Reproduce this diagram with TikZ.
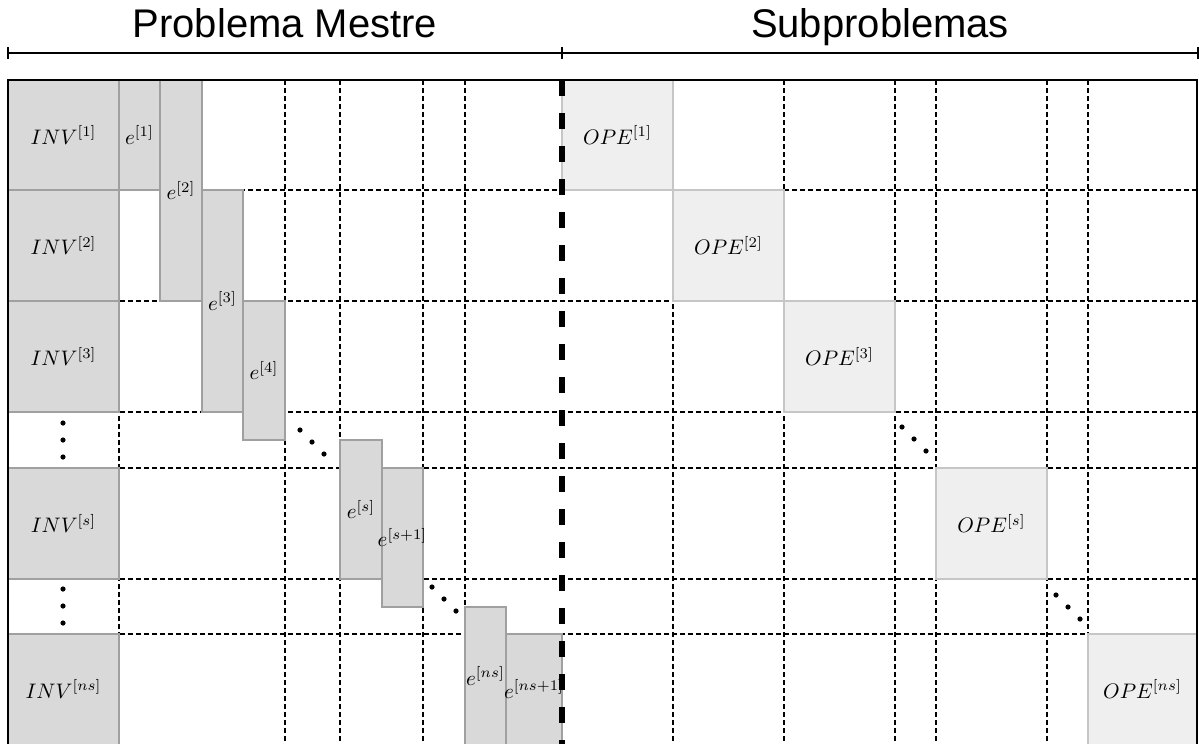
\documentclass[tikz,border=0pt]{standalone}
\usepackage{fontspec}
\newfontfamily\headfont{Liberation Sans}
\definecolor{boxgray}{HTML}{D9D9D9}
\definecolor{edgegray}{HTML}{A0A0A0}
\definecolor{opegray}{HTML}{EFEFEF}
\definecolor{opeedge}{HTML}{C6C6C6}
\begin{document}
\begin{tikzpicture}[x=0.5pt,y=-0.5pt,
  gridline/.style={black, line width=0.6pt, dash pattern=on 2.5pt off 1.5pt},
  invbox/.style={fill=boxgray, draw=edgegray, line width=0.75pt},
  opebox/.style={fill=opegray, draw=opeedge, line width=0.75pt},
  lbl/.style={inner sep=0pt, scale=1.05},
  head/.style={anchor=base, inner sep=0pt, font=\headfont\fontsize{20}{24}\selectfont},
  frameline/.style={line width=1.4pt},
  splitline/.style={line width=2.8pt, dash pattern=on 8pt off 8.5pt},
  bracketline/.style={line width=1.3pt},
  dotmark/.style={circle, fill=black, inner sep=0pt, minimum size=2.6pt}
]
\useasboundingbox (0,0) rectangle (1199,744);
\clip (0,0) rectangle (1199,744);

% header brackets
\coordinate (bl) at (8,53);
\coordinate (bm) at (562,53);
\coordinate (br) at (1198,53);
\draw[bracketline] (bl) -- (br);
\foreach \t in {bl,bm,br}
  \draw[bracketline] ([yshift=3pt]\t) -- ([yshift=-2.8pt]\t);
\node[head] (master) at (285,37) {Problema Mestre};
\node[head] (sub) at (880,37) {Subproblemas};

% dashed grid
\foreach \yy in {190,301,412,468,579,634}
  \draw[gridline] (8,\yy) -- (1197,\yy);
\foreach \xx in {119,285,340,423,465,673,784,895,936,1047,1088}
  \draw[gridline] (\xx,80) -- (\xx,746);

% investment blocks
\draw[invbox] (8,80) rectangle (119,190);
\draw[invbox] (8,190) rectangle (119,301);
\draw[invbox] (8,301) rectangle (119,412);
\draw[invbox] (8,468) rectangle (119,579);
\draw[invbox] (8,634) rectangle (119,746);

% coupling blocks
\draw[invbox] (119,80) rectangle (160,190);
\draw[invbox] (160,80) rectangle (202,301);
\draw[invbox] (202,190) rectangle (243,412);
\draw[invbox] (243,301) rectangle (285,440);
\draw[invbox] (340,440) rectangle (382,579);
\draw[invbox] (382,468) rectangle (423,607);
\draw[invbox] (465,607) rectangle (506,746);
\draw[invbox] (506,634) rectangle (562,746);

% operation blocks
\draw[opebox] (562,80) rectangle (673,190);
\draw[opebox] (673,190) rectangle (784,301);
\draw[opebox] (784,301) rectangle (895,412);
\draw[opebox] (936,468) rectangle (1047,579);
\draw[opebox] (1088,634) rectangle (1197,746);

% outer frame and split line
\draw[frameline] (8,746) -- (8,80) -- (1197,80) -- (1197,746);
\draw[splitline] (562,80) -- (562,746);

% labels
\node[lbl] (inv1) at (63.5,135) {$INV^{[1]}$};
\node[lbl] (inv2) at (63.5,245.5) {$INV^{[2]}$};
\node[lbl] (inv3) at (63.5,356.5) {$INV^{[3]}$};
\node[lbl] (invs) at (63.5,523.5) {$INV^{[s]}$};
\node[lbl] (invns) at (63.5,689) {$INV^{[ns]}$};

\node[lbl] (e1) at (139.5,135) {$e^{[1]}$};
\node[lbl] (e2) at (181,190.5) {$e^{[2]}$};
\node[lbl] (e3) at (222.5,301) {$e^{[3]}$};
\node[lbl] (e4) at (264,370.5) {$e^{[4]}$};
\node[lbl] (es) at (361,509.5) {$e^{[s]}$};
\node[lbl] (es1) at (402.5,537.5) {$e^{[s+1]}$};
\node[lbl] (ens) at (485.5,676) {$e^{[ns]}$};
\node[lbl] (ens1) at (534,689) {$e^{[ns+1]}$};

\node[lbl] (ope1) at (617.5,135) {$OPE^{[1]}$};
\node[lbl] (ope2) at (728.5,245.5) {$OPE^{[2]}$};
\node[lbl] (ope3) at (839.5,356.5) {$OPE^{[3]}$};
\node[lbl] (opes) at (991.5,523.5) {$OPE^{[s]}$};
\node[lbl] (opens) at (1142.5,689) {$OPE^{[ns]}$};

% ellipsis dots
\foreach \yy [count=\i] in {423,440,457} \node[dotmark] (va\i) at (63,\yy) {};
\foreach \yy [count=\i] in {589,606,623} \node[dotmark] (vb\i) at (63,\yy) {};
\foreach \xx/\yy [count=\i] in {300/430,312/442,324/454} \node[dotmark] (da\i) at (\xx,\yy) {};
\foreach \xx/\yy [count=\i] in {432/587,444/599,456/611} \node[dotmark] (db\i) at (\xx,\yy) {};
\foreach \xx/\yy [count=\i] in {902/427,914/439,926/451} \node[dotmark] (dc\i) at (\xx,\yy) {};
\foreach \xx/\yy [count=\i] in {1056/595,1068/607,1080/619} \node[dotmark] (dd\i) at (\xx,\yy) {};
\end{tikzpicture}
\end{document}
